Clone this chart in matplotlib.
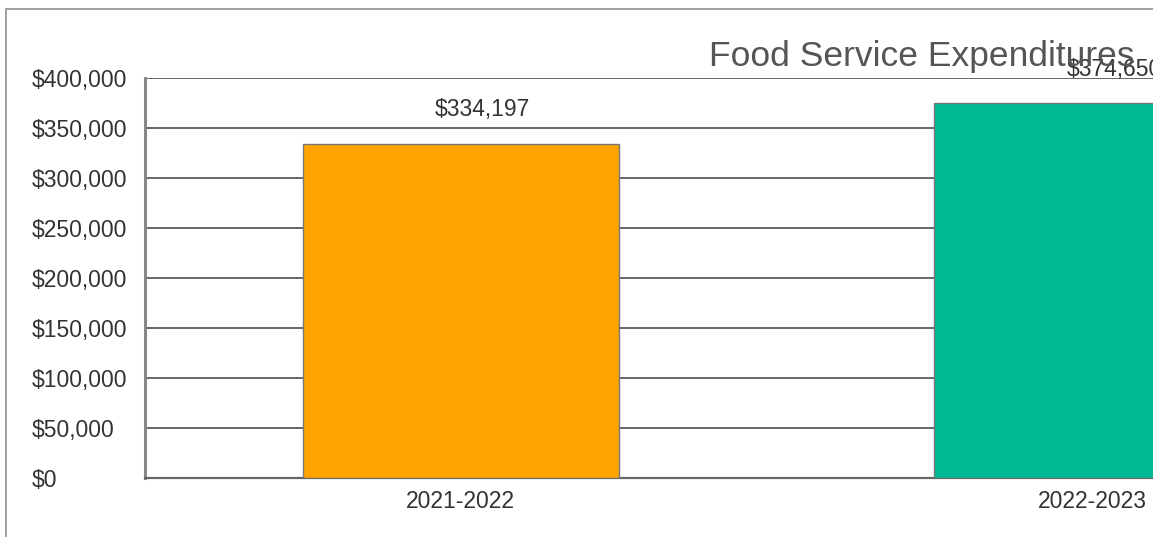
import matplotlib
matplotlib.use("Agg")
import matplotlib.pyplot as plt
from matplotlib.patches import Rectangle
from matplotlib.ticker import FuncFormatter, MultipleLocator

plt.rcParams['font.family'] = ['Liberation Sans', 'DejaVu Sans']

years = ["2021-2022", "2022-2023"]
expenditures = [334197, 374650]
bar_colors = ["#FFA300", "#00B894"]
title = "Food Service Expenditures"

W, H = 1153, 537
PX = 72 / 100  # points per pixel at dpi=100
fig = plt.figure(figsize=(W / 100, H / 100), dpi=100)

# outer chart frame (runs past the right and bottom edges)
fig.add_artist(Rectangle((6 / W, -0.1), 1.5, (H - 9) / H + 0.1,
                         transform=fig.transFigure, fill=False,
                         edgecolor="#9a9a9a", linewidth=1.3))

# plot area; its right half extends past the canvas
left, right, top, bottom = 145, 1408, 78, 478
ax = fig.add_axes([left / W, (H - bottom) / H, (right - left) / W, (bottom - top) / H])

x = list(range(len(years)))
ax.bar(x, expenditures, width=0.5, color=bar_colors, edgecolor="#777777",
       linewidth=1.0, zorder=3)

ax.set_xlim(-0.5, len(years) - 0.5)
ax.set_ylim(0, 400000)
ax.yaxis.set_major_locator(MultipleLocator(50000))
ax.yaxis.set_major_formatter(FuncFormatter(lambda v, p: f"${v:,.0f}"))
ax.set_xticks(x)
ax.set_xticklabels(years)
ax.grid(axis="y", color="#666666", linewidth=1.4, zorder=0)
ax.tick_params(axis="both", length=0, labelsize=16.5, colors="#333333")
ax.tick_params(axis="x", pad=9)
ax.tick_params(axis="y", pad=(left - 32) * PX)
for lab in ax.get_yticklabels():
    lab.set_horizontalalignment("left")

for side in ("top", "right"):
    ax.spines[side].set_visible(False)
ax.spines["left"].set_color("#888888")
ax.spines["left"].set_linewidth(2.2)
ax.spines["bottom"].set_color("#666666")
ax.spines["bottom"].set_linewidth(1.6)

for xi, v in zip(x, expenditures):
    ax.annotate(f"${v:,.0f}", (xi, v), xytext=(22 * PX, 34 * PX),
                textcoords="offset points", ha="center", va="center",
                fontsize=16.5, color="#333333", zorder=4)

fig.text(709 / W, 1 - 66 / H, title, ha="left", va="baseline", fontsize=25.5,
         color="#555555")

fig.savefig("out.png", dpi=100)
